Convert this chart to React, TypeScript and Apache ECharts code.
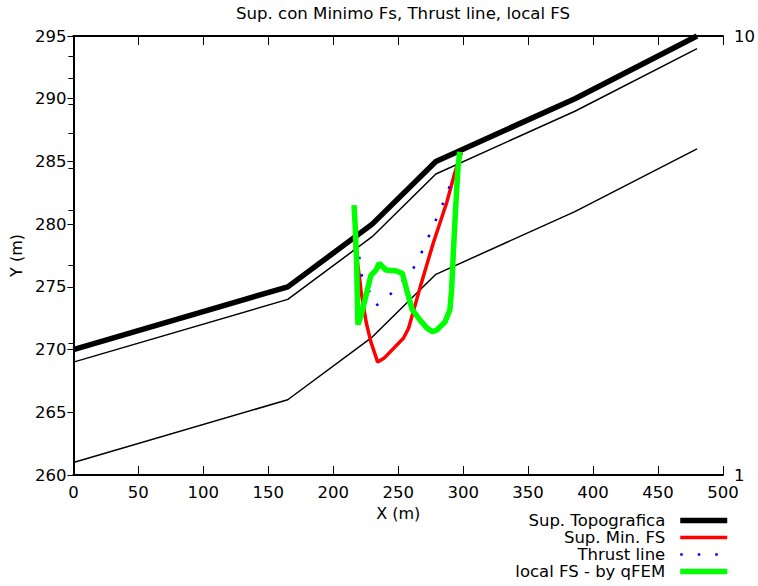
import React, { useEffect, useRef } from "react";
import * as echarts from "echarts";

// ---- data ----
const titleText = "Sup. con Minimo Fs, Thrust line, local FS";
const legendNames = ["Sup. Topografica", "Sup. Min. FS", "Thrust line", "local FS - by qFEM"];

// ground profile (x in m) and the three layer boundaries (y in m)
const profileX = [0, 165, 230, 279, 386, 480];
const topoY = [270, 275, 280, 285, 290, 295];
const layer1Y = [269, 274, 279, 284, 289, 294];
const layer2Y = [261, 266, 271, 276, 281, 286];

// minimum FS slip surface
const minX = [216, 220, 221.5, 225.3, 229, 234.2, 239, 254, 258, 267, 277, 287.3, 293.6, 298.7];
const minY = [279, 275.9, 274.6, 272.2, 270.6, 269.0, 269.3, 270.9, 271.7, 275.0, 278.5, 281.7, 284.1, 285.7];

// thrust line
const thrX = [220, 222, 233, 243, 252, 260.8, 267, 273, 278, 283.5, 288.5, 293];
const thrY = [277.4, 275.9, 273.5, 274.3, 275.3, 276.3, 277.5, 278.9, 280.1, 281.4, 282.7, 284.1];

// local FS (right log axis)
const fsX = [216, 217, 218, 218.5, 219, 221.5, 225.3, 229, 233, 235.4, 238, 240.5, 248, 253.2, 257, 260.8, 267, 272.2, 276.4, 279.7, 286, 289.8, 291.1, 292.3, 293.6, 295, 296.1, 297.4];
const fsV = [4.12, 3.65, 3.06, 2.57, 2.2, 2.31, 2.57, 2.85, 2.93, 3.04, 2.98, 2.93, 2.92, 2.88, 2.61, 2.38, 2.25, 2.16, 2.12, 2.14, 2.23, 2.38, 2.64, 3.14, 3.75, 4.46, 5.04, 5.45];

const FONT = "DejaVu Sans";

const zip = (xs: number[], ys: number[]) => xs.map((x, i) => [x, ys[i]]);

export default function App() {
  const ref = useRef<HTMLDivElement>(null);

  useEffect(() => {
    if (!ref.current) return;
    const chart = echarts.init(ref.current, null, { renderer: "svg" });
    const axisLine = { show: true, lineStyle: { color: "#000", width: 2 } };
    const label = { color: "#000", fontSize: 16.5, fontFamily: FONT };
    const lineSeries = (name: string, data: number[][], color: string, width: number, extra: any = {}) => ({
      type: "line",
      name,
      data,
      symbol: "none",
      showSymbol: false,
      color,
      itemStyle: { color },
      lineStyle: { color, width, ...(extra.lineType ? { type: extra.lineType } : {}) },
      xAxisIndex: 0,
      yAxisIndex: extra.y2 ? 1 : 0,
      silent: true,
      z: extra.z ?? 2,
    });

    chart.setOption({
      animation: false,
      backgroundColor: "#fff",
      title: {
        text: titleText,
        left: 398,
        textAlign: "center",
        top: 0,
        textStyle: { color: "#000", fontSize: 16.6, fontWeight: "normal", fontFamily: FONT },
      },
      grid: { left: 68, right: 31, top: 36, bottom: 111, containLabel: false },
      legend: {
        data: legendNames,
        orient: "vertical",
        right: 28,
        top: 512,
        align: "right",
        itemWidth: 47,
        itemHeight: 14,
        itemGap: 0,
        padding: 0,
        selectedMode: false,
        itemStyle: { opacity: 0, borderWidth: 0 },
        lineStyle: { width: "inherit", type: "inherit" },
        textStyle: { color: "#000", fontSize: 16.5, fontFamily: FONT, lineHeight: 16, padding: [0, 10, 0, 0] },
      },
      xAxis: [
        {
          type: "value",
          min: 0,
          max: 500,
          interval: 50,
          position: "bottom",
          name: "X (m)",
          nameLocation: "middle",
          nameGap: 22,
          nameTextStyle: { color: "#000", fontSize: 16, fontFamily: FONT },
          axisLine,
          axisTick: { show: true, inside: true, length: 9, lineStyle: { color: "#000", width: 1 } },
          axisLabel: { ...label, margin: 9 },
          splitLine: { show: false },
        },
        {
          type: "value",
          min: 0,
          max: 500,
          interval: 50,
          position: "top",
          axisLine,
          axisTick: { show: true, inside: true, length: 9, lineStyle: { color: "#000", width: 1 } },
          axisLabel: { show: false },
          splitLine: { show: false },
        },
      ],
      yAxis: [
        {
          type: "value",
          min: 260,
          max: 295,
          interval: 5,
          position: "left",
          name: "Y (m)",
          nameLocation: "middle",
          nameGap: 37,
          nameRotate: 90,
          nameTextStyle: { color: "#000", fontSize: 16, fontFamily: FONT },
          axisLine,
          axisTick: { show: true, inside: false, length: 6, lineStyle: { color: "#000", width: 1 } },
          axisLabel: { ...label, margin: 7 },
          splitLine: { show: false },
        },
        {
          type: "log",
          logBase: 10,
          min: 1,
          max: 10,
          position: "right",
          axisLine,
          axisTick: { show: true, inside: true, length: 5, lineStyle: { color: "#000", width: 1 } },
          minorTick: { show: true, splitNumber: 9, length: 5, lineStyle: { color: "#000", width: 1 } },
          axisLabel: { ...label, margin: 11 },
          splitLine: { show: false },
          minorSplitLine: { show: false },
        },
      ],
      series: [
        lineSeries("Sup. Topografica", zip(profileX, topoY), "#000000", 5.5),
        lineSeries("layer1", zip(profileX, layer1Y), "#000000", 1.5),
        lineSeries("layer2", zip(profileX, layer2Y), "#000000", 1.5),
        lineSeries("Sup. Min. FS", zip(minX, minY), "#ff0000", 3.5, { z: 3 }),
        lineSeries("Thrust line", zip(thrX, thrY), "#0000ff", 2.5, { lineType: [2.5, 15], z: 3 }),
        lineSeries("local FS - by qFEM", zip(fsX, fsV), "#00ff00", 5.5, { y2: true, z: 4 }),
      ],
    });
    return () => chart.dispose();
  }, []);

  return (
    <div
      ref={ref}
      style={{ position: "fixed", left: 0, top: 0, width: 758, height: 586, background: "#fff" }}
    />
  );
}
